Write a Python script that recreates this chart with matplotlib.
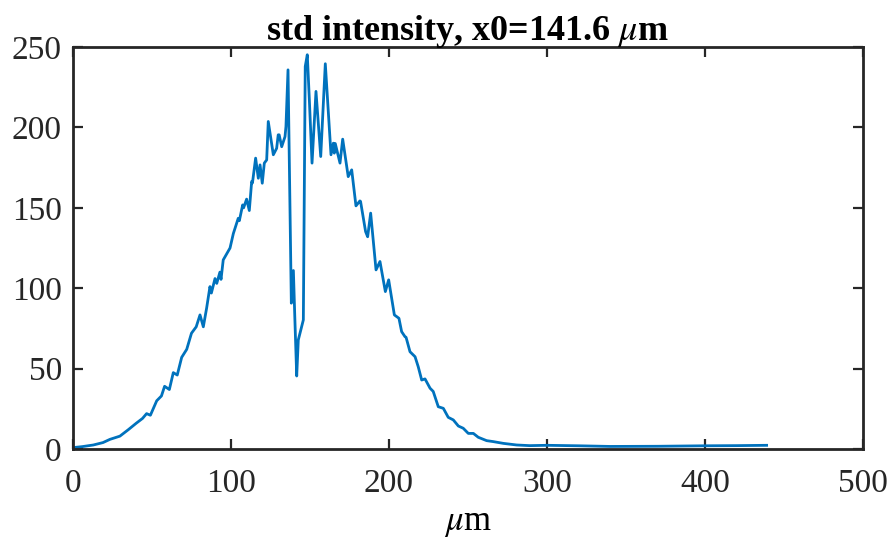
import numpy as np
import matplotlib.pyplot as plt

# Profile (position in um, std intensity)
pos_um = [0, 1.3, 6, 12.9, 19, 23.4, 29.7, 35, 40, 44, 46.6, 49, 53, 56, 58,
          61, 63.5, 66, 68.8, 72, 75, 78, 80.4, 82.5, 84.6, 86.7, 87.6, 89.9,
          91, 93, 93.7, 95.1, 99.4, 101.5, 104.6, 105.3, 107.4, 108, 109.9,
          111.6, 113.1, 113.6, 115.6, 117.3, 118.4, 119.8, 121.1, 122.6, 123.6,
          126.8, 128.9, 129.9, 130.5, 132.1, 134.2, 134.8, 136.1, 138.2, 139.5,
          140.3, 141.6, 142.6, 145.8, 147, 148.3, 149.6, 151.3, 153.8, 156.8,
          159.7, 163.3, 164.8, 165.4, 166, 169, 170.7, 174.2, 176.4, 179.1,
          181.6, 182, 185.2, 186.5, 188.4, 191.8, 194.3, 197.7, 199.8, 203.4,
          206.3, 208, 210.1, 210.8, 213.3, 216.5, 218.5, 220.7, 222.8, 226, 228,
          231.2, 234.4, 237.5, 240.7, 243.9, 247, 250.2, 253.4, 256.5, 261.8,
          266, 272.4, 280.8, 289, 300, 320, 340, 370, 400, 420, 439]
std_int = [0.5, 1, 1.5, 2.5, 4, 6, 8, 12, 16, 19, 22, 21, 30, 33, 39,
           37, 47.5, 46, 57, 62, 72, 76, 83.4, 76, 87.7, 101, 97, 106,
           103, 110, 105.5, 117.6, 125, 134, 143.5, 142, 151.8, 150, 155.4,
           148.3, 166.4, 165.5, 180.9, 168.4, 176.7, 165.3, 177.8, 179.8, 203.7,
           183, 187, 195.4, 195.4, 188, 194.3, 200.6, 235.8, 90.7, 111,
           85, 45.4, 67.8, 80.3, 237.9, 245.2, 217.2, 177.8, 222.4, 181.9,
           239.6, 183, 190.2, 184, 190, 177.8, 192.7, 169.4, 173.6, 151.2,
           154.3, 154, 135.2, 132, 146.7, 111.4, 116.6, 97.9, 105.2, 83.4,
           81.3, 73, 69.9, 69.5, 60.5, 57.4, 51.2, 42.9, 43.6, 37.8, 35.8,
           26.3, 25.3, 19.7, 18.1, 14.3, 12.9, 9.7, 9.7, 7.3, 5.2,
           4.6, 3.5, 2.5, 2.1, 2.3, 2.0, 1.6, 1.7, 2.0, 2.1, 2.3]
assert len(pos_um) == len(std_int)

x_ticks = [0, 100, 200, 300, 400, 500]
y_ticks = [0, 50, 100, 150, 200, 250]

plt.rcParams['font.family'] = ['Liberation Serif', 'DejaVu Serif']
plt.rcParams['mathtext.fontset'] = 'stix'

fig = plt.figure(figsize=(8.92, 5.43), dpi=100)
ax = fig.add_axes([0.0818, 0.1731, 0.8857, 0.7403])

ax.plot(pos_um, std_int, color='#0072BD', linewidth=2.0)

ax.set_xlim(0, 500)
ax.set_ylim(0, 250)
ax.set_xticks(x_ticks)
ax.set_yticks(y_ticks)
ax.tick_params(direction='in', length=7, width=1.6, top=True, right=True,
               labelsize=24, colors='#262626')
ax.tick_params(axis='x', pad=14)
ax.tick_params(axis='y', pad=8)
for spine in ax.spines.values():
    spine.set_linewidth(2.0)
    spine.set_color('#262626')

ax.set_title(r'std intensity, x0=141.6 $\mu$m', fontsize=26, fontweight='bold', pad=5)
ax.set_xlabel(r'$\mu$m', fontsize=25, labelpad=5)

fig.savefig('out.png', dpi=100)
